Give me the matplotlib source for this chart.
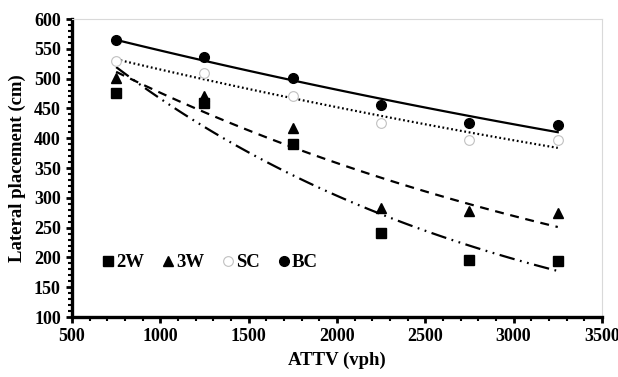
import numpy as np
import matplotlib
matplotlib.use("Agg")
from matplotlib import pyplot as plt
from matplotlib.ticker import MultipleLocator

# traffic volume (vph)
attv = [750, 1250, 1750, 2250, 2750, 3250]

# lateral placement (cm) per vehicle class
lp_2w = [476, 459, 390, 241, 196, 194]
lp_3w = [501, 470, 417, 283, 278, 274]
lp_sc = [530, 509, 471, 426, 397, 397]
lp_bc = [565, 536, 501, 456, 426, 422]

labels = ["2W", "3W", "SC", "BC"]

plt.rcParams['font.family'] = ['Liberation Serif', 'DejaVu Serif']
plt.rcParams['font.weight'] = 'bold'


def exp_trend(x, y):
    # excel style exponential trendline
    x = np.asarray(x, dtype=float)
    b, ln_a = np.polyfit(x, np.log(y), 1)
    xs = np.linspace(x.min(), x.max(), 100)
    return xs, np.exp(ln_a) * np.exp(b * xs)


fig = plt.figure(figsize=(6.18, 3.77), dpi=100)
ax = fig.add_axes([0.1165, 0.159, 0.8575, 0.7906])

series = [
    (lp_2w, dict(marker='s', color='black', ms=7.5, mfc='black', mec='black'), (0, (7, 2.5, 0.8, 2.5, 0.8, 2.5))),
    (lp_3w, dict(marker='^', color='black', ms=7.5, mfc='black', mec='black'), (0, (4, 3))),
    (lp_sc, dict(marker='o', color='#c0c0c0', ms=7, mfc='white', mec='#c0c0c0', mew=0.8), (0, (0.8, 1.2))),
    (lp_bc, dict(marker='o', color='black', ms=7, mfc='black', mec='black'), '-'),
]

handles = []
for (vals, mk, ls), lab in zip(series, labels):
    h, = ax.plot(attv, vals, linestyle='none', label=lab, zorder=3, **mk)
    handles.append(h)
    xs, ys = exp_trend(attv, vals)
    ax.plot(xs, ys, color='black', lw=1.6, linestyle=ls, zorder=2)

ax.set_xlim(500, 3500)
ax.set_ylim(100, 600)
ax.xaxis.set_major_locator(MultipleLocator(500))
ax.xaxis.set_minor_locator(MultipleLocator(100))
ax.yaxis.set_major_locator(MultipleLocator(50))
ax.yaxis.set_minor_locator(MultipleLocator(10))

for s in ['top', 'right']:
    ax.spines[s].set_color('#d9d9d9')
    ax.spines[s].set_linewidth(0.8)
for s in ['left', 'bottom']:
    ax.spines[s].set_color('black')
    ax.spines[s].set_linewidth(2.4)

ax.tick_params(which='major', direction='out', length=4, width=2, labelsize=13, pad=4)
ax.tick_params(which='minor', direction='out', length=3, width=1.5)
ax.tick_params(top=False, right=False, which='both')

ax.set_xlabel('ATTV (vph)', fontsize=13.5, fontweight='bold', labelpad=5)
ax.set_ylabel('Lateral placement (cm)', fontsize=13.5, fontweight='bold', labelpad=6)

leg = ax.legend(handles=handles, loc='center left', bbox_to_anchor=(0.045, 0.183), ncol=4,
                frameon=False, fontsize=13.5, handlelength=0.5, handletextpad=0.2,
                columnspacing=1.0, borderaxespad=0.0)

fig.savefig('out.png', dpi=100)
